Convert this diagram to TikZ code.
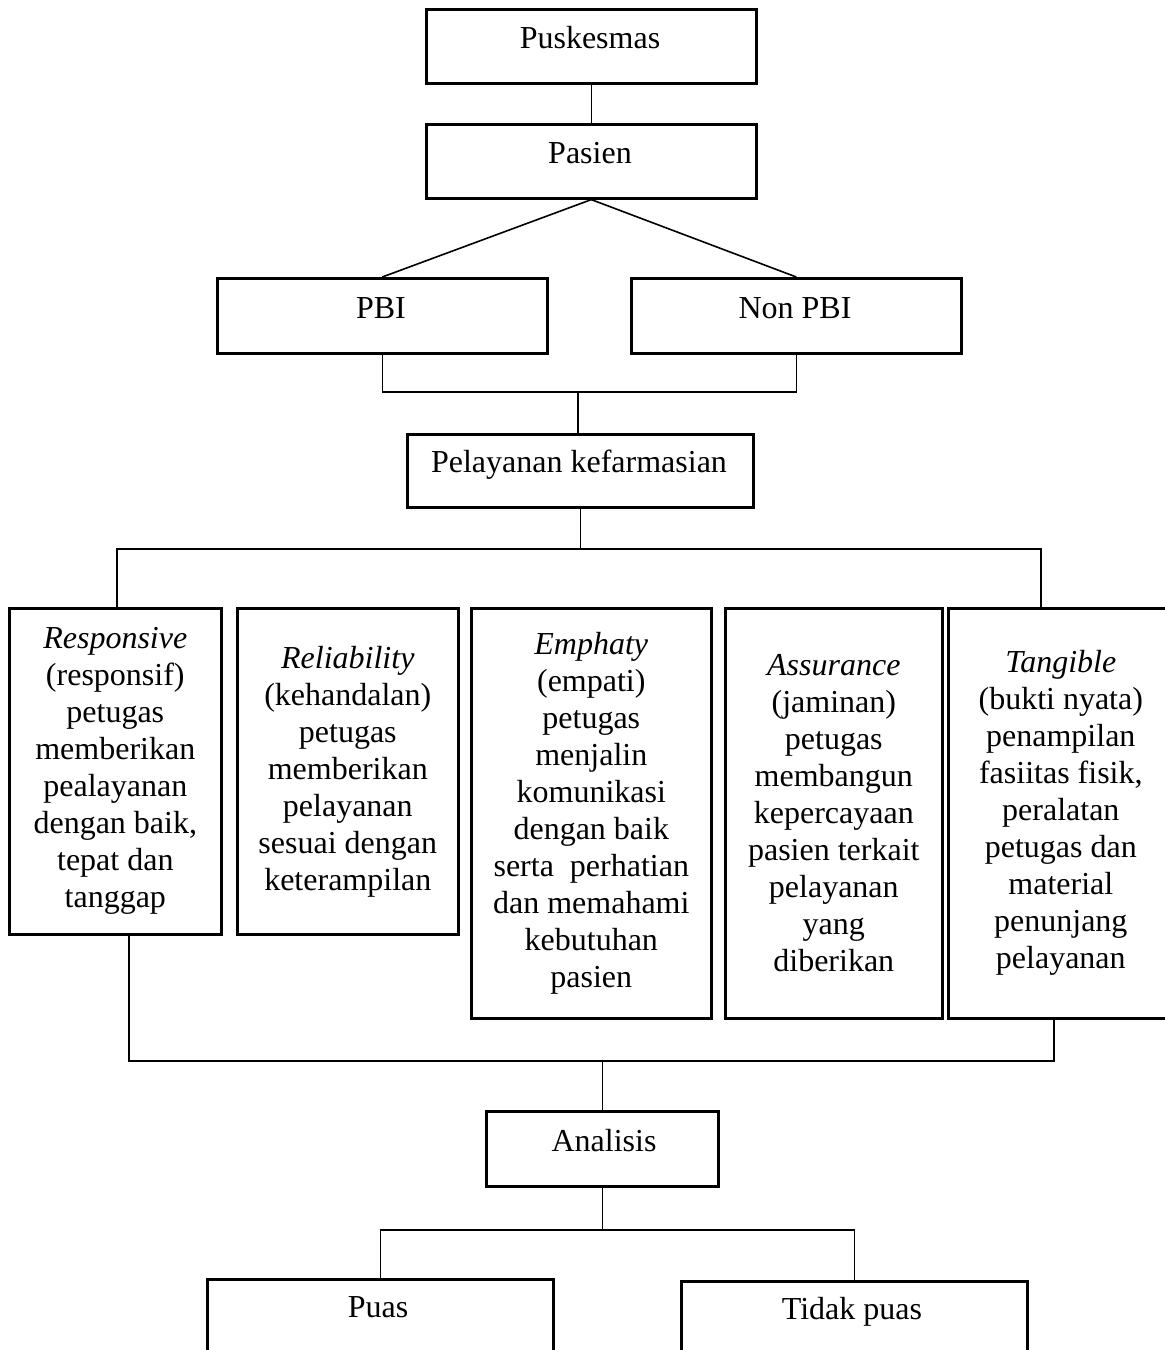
\documentclass[tikz,border=0pt]{standalone}
\usepackage{fontspec}
\setmainfont{Liberation Serif}
\begin{document}
\begin{tikzpicture}[x=0.5pt,y=-0.5pt,
  box/.style={draw, line width=1.3pt, inner sep=0pt, anchor=north west},
  bw/.style={minimum width=#1*0.5pt},
  bh/.style={minimum height=#1*0.5pt},
  txt/.style={inner sep=0pt, anchor=base, font=\fontsize{16}{18.5}\selectfont},
  btxt/.style={align=center, font=\fontsize{16}{18.5}\selectfont},
  con/.style={line width=0.8pt}]
\useasboundingbox (0,0) rectangle (1164,1350);
% boxes
\node[box,bw=330,bh=74] (pus) at (425,8) {};
\node[box,bw=330,bh=74] (pas) at (425,123) {};
\node[box,bw=330,bh=75] (pbi) at (216,277) {};
\node[box,bw=330,bh=75] (npbi) at (630,277) {};
\node[box,bw=346,bh=73] (pel) at (406,433) {};
\node[box,bw=212,bh=326,btxt] (resp) at (8,607) {\textit{Responsive}\\(responsif)\\petugas\\memberikan\\pealayanan\\dengan baik,\\tepat dan\\tanggap};
\node[box,bw=221,bh=326,btxt] (rel) at (236,607) {\textit{Reliability}\\(kehandalan)\\petugas\\memberikan\\pelayanan\\sesuai dengan\\keterampilan};
\node[box,bw=240,bh=410,btxt] (emp) at (470,607) {\textit{Emphaty}\\(empati)\\petugas\\menjalin\\komunikasi\\dengan baik\\serta~ perhatian\\dan memahami\\kebutuhan\\pasien};
\node[box,bw=217,bh=410,btxt] (ass) at (724,607) {\textit{Assurance}\\(jaminan)\\petugas\\membangun\\kepercayaan\\pasien terkait\\pelayanan\\yang\\diberikan};
\node[box,bw=225,bh=410,btxt] (tan) at (947,607) {\textit{Tangible}\\(bukti nyata)\\penampilan\\fasiitas fisik,\\peralatan\\petugas dan\\material\\penunjang\\pelayanan};
\node[box,bw=232,bh=75] (ana) at (485,1110) {};
\node[box,bw=346,bh=110] (puas) at (206,1278) {};
\node[box,bw=346,bh=110] (tpuas) at (680,1280) {};
% texts
\node[txt] (tpus) at (590,48) {Puskesmas};
\node[txt] (tpas) at (590,163) {Pasien};
\node[txt] (tpbi) at (381,318) {PBI};
\node[txt] (tnpbi) at (795,318) {Non PBI};
\node[txt] (tpel) at (579,472) {Pelayanan kefarmasian};
\node[txt] (tana) at (604,1151) {Analisis};
\node[txt] (tpu) at (378,1317) {Puas};
\node[txt] (ttp) at (852,1319) {Tidak puas};
% connectors
\draw[con] (pus.south) -- (pas.north);
\draw[con] (pas.south) -- (pbi.north);
\draw[con] (pas.south) -- (npbi.north);
\coordinate (j1) at (578,392);
\draw[con] (pbi.south) |- (j1) -| (npbi.south);
\draw[con] (j1) -- (j1 |- pel.north);
\coordinate (h1) at (117,549);
\coordinate (h2) at (1041,549);
\draw[con] (pel.south) -- (pel.south |- h1);
\draw[con] (h1 |- resp.north) -- (h1) -- (h2) -- (h2 |- tan.north);
\coordinate (b1) at (129,1061);
\coordinate (b2) at (1054,1061);
\draw[con] (b1 |- resp.south) -- (b1) -- (b2) -- (b2 |- tan.south);
\draw[con] (ana.north |- b1) -- (ana.north);
\coordinate (c1) at (378,1230);
\draw[con] (ana.south) -- (ana.south |- c1);
\draw[con] (puas.north) -- (puas.north |- c1) -- (tpuas.north |- c1) -- (tpuas.north);
\end{tikzpicture}
\end{document}
